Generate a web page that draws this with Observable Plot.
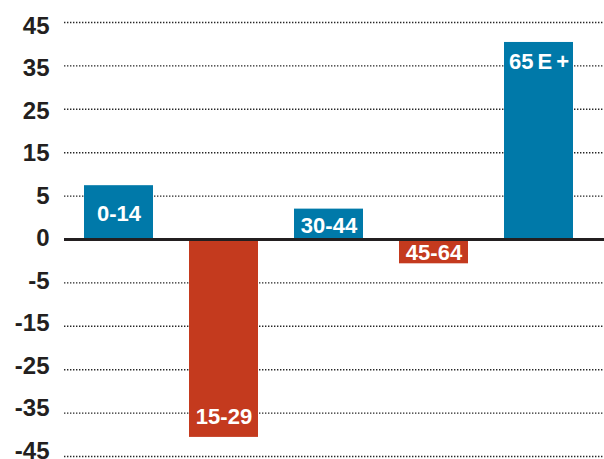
<!DOCTYPE html>
<html><head><meta charset="utf-8">
<script src="https://cdn.jsdelivr.net/npm/d3@7"></script>
<script src="https://cdn.jsdelivr.net/npm/@observablehq/plot@0.6"></script>
<style>
body{margin:0;background:#fff;}
#chart svg{display:block;font-family:"Liberation Sans",Arial,sans-serif;}
#chart svg text{word-spacing:-2px;}
</style>
</head><body><div id="chart"></div>
<script>
const ageGroups = ["0-14", "15-29", "30-44", "45-64", "65 E +"];
const values = [7.4, -40.6, 3.5, -2.8, 40.4];
const yTicks = [45, 35, 25, 15, 5, 0, -5, -15, -25, -35, -45];
const yTickLabels = ["45", "35", "25", "15", "5", "0", "-5", "-15", "-25", "-35", "-45"];

const data = ageGroups.map((g, i) => ({group: g, value: values[i]}));

const W = 604, H = 459, mt = 22, mb = 3, ml = 64;
const step = (H - mt - mb) / 10;
// the axis labels are evenly spaced: map values to "label steps"
const yUnits = d3.scaleLinear([-45, -5, 5, 45], [-5, -1, 1, 5]);

function labelY(v) {
  const s = yUnits(v);
  const px = Math.abs(s) * step;
  let sl;
  if (px > 80) sl = v > 0 ? s - 19 / step : s + 20 / step;
  else sl = s / 2 - 1.5 / step;
  return yUnits.invert(sl);
}
// tick labels sit on a slightly tighter spacing than the gridlines
function tickLabelY(t) {
  const s = yUnits(t);
  return yUnits.invert((1.8 + s * 42.5) / step);
}

const BLUE = "#0079a9", RED = "#c43a1e";

const chart = Plot.plot({
  width: W, height: H,
  marginTop: mt, marginBottom: mb, marginLeft: ml, marginRight: 0,
  x: {domain: ageGroups, range: [65, 591], paddingInner: 0.343, paddingOuter: 0.1715, axis: null},
  y: {type: "linear", transform: yUnits, domain: [-5, 5], axis: null},
  marks: [
    Plot.ruleY(yTicks.filter(t => t !== 0), {stroke: "#262626", strokeWidth: 1.4, strokeDasharray: "1.4,1.6"}),
    Plot.barY(data, {x: "group", y1: 0, y2: "value", fill: d => d.value >= 0 ? BLUE : RED}),
    Plot.ruleY([0], {stroke: "#231f20", strokeWidth: 3}),
    Plot.text(data, {x: "group", y: d => labelY(d.value), text: "group", fill: "white", fontSize: 22, fontWeight: "bold"}),
    Plot.text(yTicks, {frameAnchor: "left", y: d => tickLabelY(d), text: (d, i) => yTickLabels[i], textAnchor: "end", dx: -15, dy: 1, fill: "#231f20", fontSize: 24, fontWeight: "bold"})
  ]
});
document.getElementById("chart").appendChild(chart);
</script>
</body></html>
